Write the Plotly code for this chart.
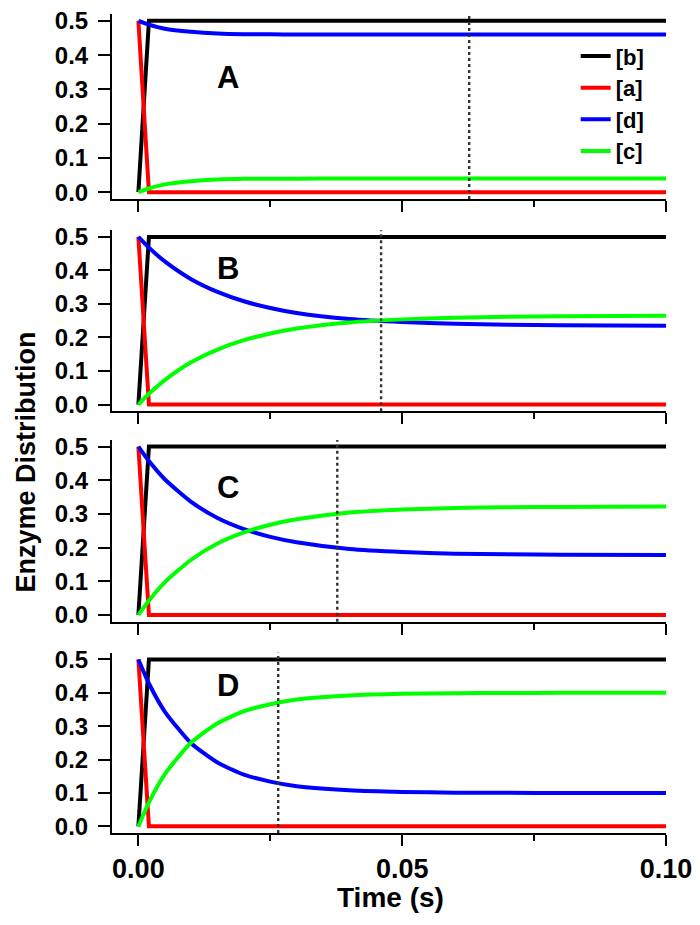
import plotly.graph_objects as go

# ---- data ----
t_fast = [0, 0.002, 0.1]
b_vals = [0.0, 0.5, 0.5]          # [b]
a_vals = [0.5, 0.0, 0.0]          # [a]

t = [0, 0.002, 0.005, 0.01, 0.015, 0.02, 0.025, 0.03, 0.04, 0.05, 0.06, 0.07, 0.08, 0.1]

d_A = [0.5, 0.489, 0.477, 0.468, 0.463, 0.461, 0.4606, 0.4603, 0.460, 0.460, 0.460, 0.460, 0.460, 0.460]
c_A = [0.0, 0.011, 0.023, 0.032, 0.037, 0.039, 0.0394, 0.0397, 0.040, 0.040, 0.040, 0.040, 0.040, 0.040]
d_B = [0.5, 0.468, 0.427, 0.374, 0.336, 0.308, 0.288, 0.273, 0.255, 0.246, 0.241, 0.238, 0.2365, 0.235]
c_B = [0.0, 0.032, 0.073, 0.126, 0.164, 0.192, 0.212, 0.227, 0.245, 0.254, 0.259, 0.262, 0.2635, 0.265]
d_C = [0.5, 0.457, 0.403, 0.336, 0.288, 0.255, 0.232, 0.216, 0.196, 0.187, 0.182, 0.180, 0.179, 0.178]
c_C = [0.0, 0.043, 0.097, 0.164, 0.212, 0.245, 0.268, 0.284, 0.304, 0.313, 0.318, 0.320, 0.321, 0.322]
d_D = [0.5, 0.428, 0.344, 0.249, 0.191, 0.155, 0.134, 0.120, 0.108, 0.103, 0.101, 0.1005, 0.100, 0.100]
c_D = [0.0, 0.072, 0.156, 0.251, 0.309, 0.345, 0.366, 0.380, 0.392, 0.397, 0.399, 0.3995, 0.400, 0.400]

panel_labels = ["A", "B", "C", "D"]
dotted_t = [0.0627, 0.046, 0.0377, 0.0265]
label_pos = [(0.017, 0.334), (0.017, 0.406), (0.017, 0.380), (0.017, 0.4225)]
x_ticks = [0, 0.05, 0.1]
x_minor = [0.025, 0.075]
series_names = ["[b]", "[a]", "[d]", "[c]"]
colors = ["#000000", "#FF0000", "#0000FF", "#00FF00"]

d_all = [d_A, d_B, d_C, d_D]
c_all = [c_A, c_B, c_C, c_D]

FONT = "Liberation Sans, Arial, sans-serif"
domains = [[0.774, 1.0], [0.515, 0.736], [0.258, 0.480], [0.0, 0.220]]
LW = 4

fig = go.Figure()
for i in range(4):
    xa = "x" if i == 0 else f"x{i+1}"
    ya = "y" if i == 0 else f"y{i+1}"
    show = i == 0
    fig.add_trace(go.Scatter(x=t_fast, y=b_vals, mode="lines", name=series_names[0],
                             line=dict(color=colors[0], width=LW), xaxis=xa, yaxis=ya,
                             showlegend=show, legendrank=1))
    fig.add_trace(go.Scatter(x=t_fast, y=a_vals, mode="lines", name=series_names[1],
                             line=dict(color=colors[1], width=LW), xaxis=xa, yaxis=ya,
                             showlegend=show, legendrank=2))
    fig.add_trace(go.Scatter(x=t, y=d_all[i], mode="lines", name=series_names[2],
                             line=dict(color=colors[2], width=LW, shape="spline", smoothing=0.6),
                             xaxis=xa, yaxis=ya, showlegend=show, legendrank=3))
    fig.add_trace(go.Scatter(x=t, y=c_all[i], mode="lines", name=series_names[3],
                             line=dict(color=colors[3], width=LW, shape="spline", smoothing=0.6),
                             xaxis=xa, yaxis=ya, showlegend=show, legendrank=4))
    fig.add_shape(type="line", xref=xa, yref=f"{ya} domain", x0=dotted_t[i], x1=dotted_t[i],
                  y0=0, y1=1, line=dict(color="#333333", width=2.4, dash="dot"))
    fig.add_annotation(x=label_pos[i][0], y=label_pos[i][1], xref=xa, yref=ya,
                       text=panel_labels[i], showarrow=False, xanchor="center", yanchor="middle",
                       font=dict(family=FONT, size=31, color="black", weight="bold"))

layout = dict(
    width=692, height=909,
    margin=dict(l=104, r=34, t=6, b=84, autoexpand=False),
    plot_bgcolor="white", paper_bgcolor="white",
    font=dict(family=FONT, color="black", weight="bold"),
    legend=dict(x=0.837, y=0.974, xanchor="left", yanchor="top",
                font=dict(family=FONT, size=22, color="black", weight="bold"),
                bgcolor="rgba(0,0,0,0)", tracegroupgap=0),
    showlegend=True,
)
for i in range(4):
    xk = "xaxis" if i == 0 else f"xaxis{i+1}"
    yk = "yaxis" if i == 0 else f"yaxis{i+1}"
    ya = "y" if i == 0 else f"y{i+1}"
    xa = "x" if i == 0 else f"x{i+1}"
    layout[xk] = dict(domain=[0, 1], anchor=ya, range=[-0.005, 0.1], automargin=False,
                      showline=True, linecolor="black", linewidth=2, mirror=False,
                      showgrid=False, zeroline=False, ticklabeloverflow="allow",
                      ticks="outside", ticklen=11, tickwidth=2, tickcolor="black",
                      tickvals=x_ticks, tickformat=".2f",
                      showticklabels=(i == 3),
                      tickfont=dict(family=FONT, size=27, color="black", weight="bold"),
                      minor=dict(tickvals=x_minor, ticks="outside", ticklen=6, tickwidth=2,
                                 tickcolor="black", showgrid=False))
    layout[yk] = dict(domain=domains[i], anchor=xa, range=[-0.02, 0.52], automargin=False,
                      showline=True, linecolor="black", linewidth=2, mirror=False,
                      showgrid=False, zeroline=False, ticklabeloverflow="allow",
                      ticks="outside", ticklen=12, tickwidth=2, tickcolor="black",
                      tick0=0, dtick=0.1, tickformat=".1f", ticklabelstandoff=5,
                      tickfont=dict(family=FONT, size=24, color="black", weight="bold"))
fig.update_layout(**layout)

fig.add_annotation(x=-0.156, y=0.453, xref="paper", yref="paper", text="Enzyme Distribution",
                   textangle=-90, showarrow=False, xanchor="center", yanchor="middle",
                   font=dict(family=FONT, size=27, color="black", weight="bold"))
fig.add_annotation(x=0.502, y=-0.079, xref="paper", yref="paper", text="Time (s)",
                   showarrow=False, xanchor="center", yanchor="middle",
                   font=dict(family=FONT, size=28, color="black", weight="bold"))

fig.write_html("out.html")
